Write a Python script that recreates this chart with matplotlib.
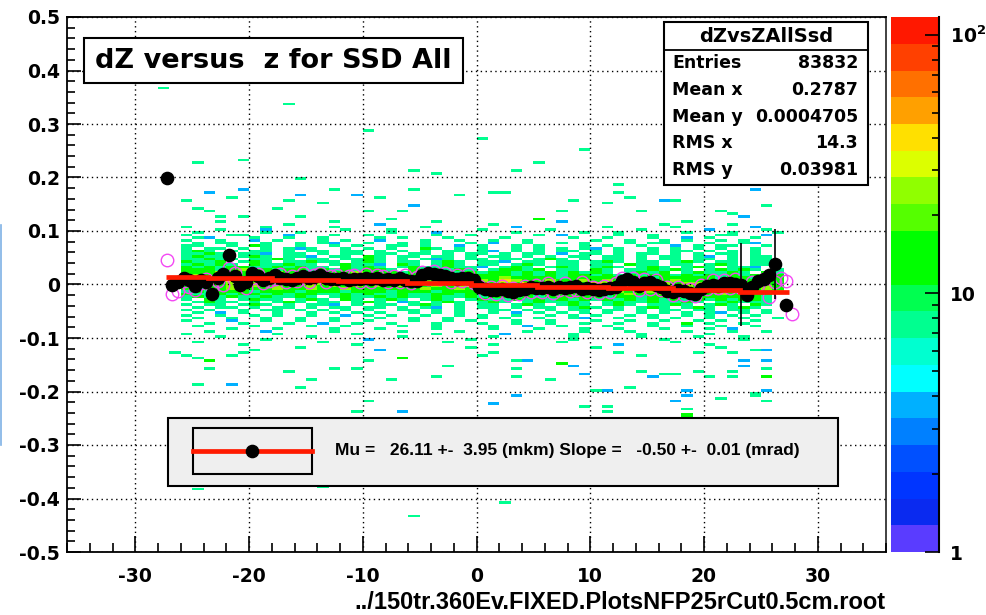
import numpy as np
import matplotlib
matplotlib.use('Agg')
import matplotlib.pyplot as plt
from matplotlib.colors import ListedColormap, LogNorm
from matplotlib.patches import Rectangle
from matplotlib.lines import Line2D
from matplotlib.ticker import MultipleLocator, FuncFormatter, NullFormatter

plt.rcParams['font.family'] = ['DejaVu Sans']
plt.rcParams['font.weight'] = 'bold'
plt.rcParams['axes.unicode_minus'] = False
plt.rcParams['mathtext.fontset'] = 'dejavusans'

# ---- data -----------------------------------------------------------------
# 2D histogram core: rows from y=0.12 down to y=-0.12 (0.005 per row),
# columns from x=-27 to x=27 (1 cm per column)
# . empty, b ~4, a ~8, g ~13, l ~26, y ~40 entries
level_count = {'b': 4, 'a': 8, 'g': 13, 'l': 26, 'y': 40, 'o': 60}
core_rows = [
    "....a.........a........a..........b..........a........",
    "..........a.......b.........a..............a.....a.....",
    ".a......a.....a.......a.......b.......a.....a......b...",
    "....a...b......a...a.......a.....a.......a.....b....a..",
    "..a.....a..a.......a...b......a.....a..a.....a...a...a.",
    ".a...aa...b...a..a.....a..a.....a.b....a..a.....aa..b.",
    "..ab...a..a..a....a.a...a....a.....a..a...a..b.a...a..",
    ".a..a..b.a...a.a..b...a..a..a..a.....a..a..a.a..a.a...",
    "..a.aa..a..a.ab..a..a.a...a.b..a..a.a...a.aa...a..ab..",
    ".aa..a.ga..a..a.a..aa.a..b.a..a.a...a.a..a..b.a.aa..a.",
    ".a.aa.a.a.aba..a.a.a..ga.a.a..a.a.a.ab.a..a.a.a.a..a..",
    ".aga.a.aa.a.aa.aa.a.a.a.aa.ab.a.a.aa.a.a..a.aa.a.a.a..",
    ".aaga.aab.aa.a.aa.aa.aa.a.aa.a.aa.b.aa.a.aa.a.a.aa.a..",
    ".agaa.aga.aab.aa.ga.aa.aa.a.aa.a.a.aa.aa.a.aa.ab.a.aa.",
    ".aagaa.aaga.aa.aaga.a.aba.aa.aa.aga.a.aa.a.aa.aa.a.aa.",
    ".gaag.aga.aagaa.aga.aa.aga.aab.aa.aa.aga.aa.aga.aa.aa.",
    ".agaga.gaagaa.agaab.ga.aga.aa.aga.aa.aa.gaa.aa.aga.aa.",
    ".gagaggaagagaa.gaga.agaagaab.aga.aga.aga.aga.aga.aab..",
    ".gggaglggaggagagagga.gagaga.aggag.aa.ga.aagaga.agaga.a",
    ".ggglgggglggaggglgggagaggagaggagagagaga.agag.agaaga.ga",
    ".glgglglgglgglgggglgggglggggggagagaggagagaggagagagagag",
    ".lglylglyglglgylglgglgglgglgglggggagggggggagggggaggagg",
    ".glylylglylgylglglylgylglgllgylgglgglglgglgglgggggggag",
    ".lylglyllgylylglyllglyllglylglgylgllgylgllglgllgglgggg",
    ".glgglglglgglglglglglgglglyllglylglgylglylglylglglgglg",
    ".gagglggglgglgglgggggglgglglglylglylglylgylglylglylglg",
    ".agagggagggagggagggagggagggglgglglglglglgllglglglgylgl",
    ".gaagaggagaggaagagaagaaggagaggggglggglgglgglgglglglgg.",
    ".agaagaagaaga.agaagagaagaagaggagagggggaggaggaggggggga.",
    ".a.ga.agaa.aga.ga.aga.aga.agaagagagagagagagagagagagga.",
    "..agaa.a.aga.aa.aga.ba.aga.aga.agaaga.agaagaaga.agaaa.",
    ".a.aa.aga.a.aab.a.aa.aga.a.aa.aga.aga.aga.aaga.aga.ga.",
    "..a.aa.a.aa.a.aa.aa.a.ab.a.aa.a.aa.aga.a.aga.aga.aga..",
    ".a.a..a.aa.a.a.a.a..aa.a.a..aa.a.a.aa.aa.a.aa.aa.aa.a.",
    "..a.b.a..a..a.a.a.a..a.a.a..a.b.a.a.a.a..a.a.a.ab.a.a.",
    ".a..a..a.a..a..b.a.a..a..a.a..a..a.a.a..a.a..a.a.a.a..",
    "..a..a..a..a..a...a..a..a..a.a..a..ab..a..a.a..a..a..a",
    ".a...b..a..a..a..a...a..a.a...a..a...a..a..a..a.a..a..",
    "...a..a...a..b..a..a...a...a..a..a..a..a..a..g.a..a...",
    "..a....a....a..a....a..a....a..b..a...a...a..a..a..a..",
    ".....a...a....a...a....a....a...a...a..a...a...a.b....",
    "...a....b.....a.....a....a.....a....a...a....a...a..a.",
    ".a.......a......a......a.....b.....a.....a.....a......",
    "....a.......a.......a.......a......a.....a....a...a...",
    "........a........b........a........a.......a......a..",
    "..a..........a..........a.........a.........a.........",
    "......a.........a...........a..........b.......a......",
    "...........a..............a..........a..........a.....",
]

# sparse cells outside the core (x, y, level)
out_x = [-27.3, -16.8, -24.7, -20.35, -15.8, -23.3, -21.75, -20.7, -24.7, -23.4,
         -22.3, -20.1, -16.7, -15.7, -17.4, -15.2, -13.5, -5.9, -3.4, -12.8,
         -10.6, -8.3, -5.8, -1.85, 1.8, -9.4, -6.3, -7.4, -5.9, 5.7,
         2.7, 8.2, 12.6, 12.6, 13.7, 11.7, 16.1, 17.7, 5.8, 7.7,
         14.1, 24.7, 21.7, 22.4, 23.3, 0.5, 9.0, -10.0, 18.5, 20.5,
         25.5, -26.0, 3.5,
         -26.7, -25.3, -24.4, -23.5, -24.9, -24.0, -21.4, -20.9, -21.4, -19.8,
         -16.8, -15.9, -14.3, -12.5, -10.4, -10.9, -9.4, -9.2, -8.9, -7.4,
         -6.8, -6.8, -3.9, -2.8, 0.6, 1.1, 1.8, 3.2, 3.2, 3.7,
         3.7, 4.7, 6.2, 7.1, 8.2, 9.6, 9.6, 10.3, 11.4, 11.7,
         11.7, 12.8, 13.7, 14.2, 14.9, 15.8, 16.7, 17.7, 17.7, 18.1,
         18.8, 19.3, 18.8, 18.6, 18.8, 19.5, 20.4, 21.1, 22.7, 23.2,
         22.7, 22.7, 23.4, 24.8, 25.7, 25.7, 25.2, 25.0, 25.7, 25.7,
         24.3, 24.8, -24.4, 2.6, -5.3, -14.0]
out_y = [0.367, 0.335, 0.227, 0.233, 0.197, 0.174, 0.162, 0.177, 0.143, 0.136,
         0.126, 0.125, 0.156, 0.169, 0.142, 0.126, 0.152, 0.211, 0.206, 0.180,
         0.169, 0.162, 0.180, 0.169, 0.174, 0.137, 0.136, 0.123, 0.150, 0.227,
         0.172, 0.156, 0.187, 0.174, 0.161, 0.153, 0.156, 0.156, 0.123, 0.139,
         0.135, 0.177, 0.139, 0.133, 0.128, 0.270, 0.250, 0.290, 0.230, 0.200,
         0.150, 0.160, 0.210,
         -0.127, -0.131, -0.136, -0.144, -0.188, -0.156, -0.134, -0.129, -0.188, -0.124,
         -0.162, -0.194, -0.179, -0.156, -0.159, -0.240, -0.144, -0.217, -0.122, -0.179,
         -0.139, -0.238, -0.171, -0.150, -0.131, -0.221, -0.130, -0.144, -0.208, -0.158,
         -0.173, -0.142, -0.179, -0.147, -0.152, -0.169, -0.229, -0.200, -0.200, -0.229,
         -0.238, -0.127, -0.194, -0.164, -0.133, -0.173, -0.166, -0.166, -0.216, -0.209,
         -0.197, -0.129, -0.234, -0.244, -0.250, -0.162, -0.171, -0.214, -0.129, -0.144,
         -0.161, -0.171, -0.153, -0.122, -0.125, -0.145, -0.159, -0.175, -0.200, -0.218,
         -0.209, -0.202, -0.381, -0.410, -0.434, -0.380]
out_c = ("aaaaababaa" "aaabaaaaaa" "baaaaaaaba" "aaaaaabaga" "abaabaaaaa" "aaa"
         "aaagaaaaba" "aaaaaaaaba" "gbaaabaaba" "abagbbaaba" "aaaaabaabb"
         "baagga" "aaabaab" "abbagbaaaa" "aaaa")

# profile (black points) and second profile (magenta open circles)
prof_x = np.arange(-27.25, 27.3, 0.5)
prof_y = [0.200, 0.000, 0.005, 0.013, 0.008, -0.002, 0.008, 0.005, -0.018, 0.012,
          0.020, 0.055, 0.015, 0.000, 0.005, 0.022, 0.015, 0.008, 0.012, 0.018,
          0.012, 0.010, 0.008, 0.013, 0.016, 0.012, 0.014, 0.018, 0.012, 0.010,
          0.011, 0.012, 0.009, 0.011, 0.010, 0.013, 0.011, 0.012, 0.009, 0.011,
          0.009, 0.012, 0.008, 0.007, 0.006, 0.017, 0.021, 0.019, 0.018, 0.015,
          0.012, 0.010, 0.013, 0.012, 0.008,
          -0.005, -0.008, -0.010, -0.011, -0.009, -0.012, -0.014, -0.010, -0.008, -0.005,
          -0.007, -0.006, -0.005, -0.008, -0.004, -0.006, -0.005, -0.003, -0.008, -0.006,
          -0.009, -0.010, -0.008, -0.007, -0.004, 0.006, 0.010, 0.005, -0.002, 0.003,
          0.004, -0.001, -0.005, -0.012, -0.014, -0.010, -0.012, -0.016, -0.018, -0.008,
          -0.002, 0.000, -0.002, 0.002, 0.003, 0.001, 0.000, -0.020, -0.005, 0.006,
          0.010, 0.018, 0.038, np.nan, -0.038]
err_x = [23.25, 26.25]
err_y = [0.000, 0.038]
err_dy = [0.078, 0.065]

mag_x = np.arange(-27.25, 27.8, 0.5)
mag_y = [0.045, -0.018, -0.012, 0.006, -0.004, -0.010, 0.002, 0.010, -0.004, 0.006,
         0.000, 0.030, 0.022, 0.004, -0.006, 0.012, 0.020, 0.002, 0.006, 0.010,
         0.020, 0.004, 0.016, 0.006, 0.022, 0.004, 0.018, 0.022, 0.004, 0.016,
         0.018, 0.004, 0.016, 0.018, 0.004, 0.020, 0.004, 0.018, 0.016, 0.004,
         0.016, 0.004, 0.018, 0.002, 0.014, 0.024, 0.010, 0.026, 0.010, 0.022,
         0.004, 0.018, 0.006, 0.020, 0.002,
         -0.002, -0.016, -0.004, -0.018, -0.002, -0.020, -0.006, -0.018, -0.002, -0.014,
         0.000, -0.014, 0.002, -0.016, -0.010, 0.002, -0.012, -0.010, 0.004, -0.014,
         -0.004, -0.016, -0.002, -0.014, 0.002, 0.012, 0.004, 0.012, -0.010, 0.010,
         -0.008, 0.008, -0.010, -0.004, -0.020, -0.004, -0.020, -0.008, -0.022, 0.000,
         -0.008, 0.008, -0.006, 0.008, -0.006, 0.010, -0.006, -0.012, 0.004, 0.000,
         0.010, -0.023, 0.005, 0.013, 0.007, -0.056]

# fitted straight line, drawn in steps as ROOT does
fit_edges = [-27.3, -23.6, -18.0, -12.2, -6.1, -0.5, 5.3, 11.6, 17.3, 23.2, 27.5]
fit_vals = [0.0145, 0.012, 0.009, 0.006, 0.0025, -0.0015, -0.004, -0.007, -0.010, -0.0135]

palette = ['#5a3cff', '#0a2af0', '#0035ff', '#0050ff', '#0080ff', '#00b0ff', '#00ffff',
           '#00ffd0', '#00ff90', '#00ff50', '#00ff00', '#00ff00', '#55ff00', '#90ff00',
           '#dcff00', '#ffe000', '#ffa000', '#ff7000', '#ff4000', '#ff1800']

stats_labels = ['Entries', 'Mean x', 'Mean y', 'RMS x', 'RMS y']
stats_values = ['83832', '0.2787', '0.0004705', '14.3', '0.03981']

# ---- build histogram --------------------------------------------------------
NX = 54
xs, ys, ws = [], [], []
for i, row in enumerate(core_rows):
    for j, ch in enumerate(row.ljust(NX, '.')[:NX]):
        if ch != '.':
            xs.append(-27 + j + 0.5)
            ys.append(0.12 - 0.005 * (i + 0.5))
            ws.append(level_count[ch])
for x, y, c in zip(out_x, out_y, out_c):
    xs.append(x)
    ys.append(y)
    ws.append(level_count[c])

xedges = np.arange(-36, 36.5, 1.0)
yedges = np.linspace(-0.5, 0.5, 201)
H, _, _ = np.histogram2d(xs, ys, bins=[xedges, yedges], weights=ws)

# ---- figure ------------------------------------------------------------------
W, HH = 986, 615
fig = plt.figure(figsize=(W / 100, HH / 100), dpi=100)


def fx(p):
    return p / W


def fy(p):
    return 1 - p / HH


ax = fig.add_axes([fx(67), fy(552), fx(886) - fx(67), fy(17) - fy(552)])
cmap = ListedColormap(palette)
norm = LogNorm(vmin=1, vmax=117)
mesh = ax.pcolormesh(xedges, yedges, np.ma.masked_equal(H.T, 0), cmap=cmap, norm=norm, zorder=1)

ax.plot(mag_x, mag_y, 'o', mfc='none', mec='#f348f3', ms=9, mew=1.0, zorder=3)
ax.plot(prof_x, prof_y, 'o', color='black', ms=8.8, zorder=4)
ax.errorbar(err_x, err_y, yerr=err_dy, fmt='none', ecolor='black', elinewidth=1.2, capsize=0, zorder=4)
ax.stairs(fit_vals, fit_edges, baseline=None, color='#ff1a00', lw=3.4, zorder=5)

ax.set_xlim(-36, 36)
ax.set_ylim(-0.5, 0.5)
ax.xaxis.set_major_locator(MultipleLocator(10))
ax.xaxis.set_minor_locator(MultipleLocator(2))
ax.yaxis.set_major_locator(MultipleLocator(0.1))
ax.yaxis.set_minor_locator(MultipleLocator(0.02))
ax.xaxis.set_major_formatter(FuncFormatter(lambda v, p: f'{round(v):d}'))
ax.yaxis.set_major_formatter(FuncFormatter(lambda v, p: f'{round(v, 1):g}' if abs(v) > 1e-9 else '0'))
ax.tick_params(axis='both', which='both', direction='in', top=False, right=False, width=1.2, labelsize=13.5)
ax.tick_params(axis='x', which='major', length=11.5, pad=11)
ax.tick_params(axis='x', which='minor', length=6.5)
ax.tick_params(axis='y', which='major', length=10, pad=5)
ax.tick_params(axis='y', which='minor', length=6)
ax.set_axisbelow(False)
ax.grid(True, which='major', color='black', linestyle=(0, (1, 2.5)), linewidth=1.0, zorder=2)
for s in ax.spines.values():
    s.set_linewidth(1.3)
ax.spines['right'].set_color('#333333')

# colour bar
cax = fig.add_axes([fx(891), fy(552), fx(939) - fx(891), fy(17) - fy(552)])
cb = fig.colorbar(mesh, cax=cax)
cb.outline.set_visible(False)
cb.set_ticks([1, 10, 100])
cb.set_ticklabels(['1', '10', r'$\mathbf{10^{2}}$'])
cax.yaxis.set_minor_formatter(NullFormatter())
cax.tick_params(which='both', direction='in', right=True, left=False, width=1.2, labelsize=13.5, pad=8)
cax.tick_params(which='major', length=10)
cax.tick_params(which='minor', length=5)
cax.plot([1, 1], [0, 1], transform=cax.transAxes, color='black', lw=1.5, clip_on=False)

# ---- boxes -------------------------------------------------------------------
def box(x0, y0, x1, y1, fc='white'):
    fig.add_artist(Rectangle((fx(x0), fy(y1)), fx(x1) - fx(x0), fy(y0) - fy(y1),
                             transform=fig.transFigure, facecolor=fc,
                             edgecolor='black', lw=1.5, zorder=5))


# title
box(84, 38, 463, 83)
fig.text(fx(273), fy(61), 'dZ versus  z for SSD All', ha='center', va='center',
         fontsize=19.5, fontweight='bold', zorder=6)

# statistics box
box(664, 22, 868, 185)
fig.add_artist(Line2D([fx(664), fx(868)], [fy(50), fy(50)], transform=fig.transFigure,
                      color='black', lw=1.3, zorder=6))
fig.text(fx(766), fy(36), 'dZvsZAllSsd', ha='center', va='center', fontsize=14, zorder=6)
for k, (lab, val) in enumerate(zip(stats_labels, stats_values)):
    yy = fy(63 + 26.8 * k)
    fig.text(fx(672), yy, lab, ha='left', va='center', fontsize=12.5, zorder=6)
    fig.text(fx(858), yy, val, ha='right', va='center', fontsize=12.5, zorder=6)

# legend
box(168, 418, 838, 486, fc='#efefef')
box(193, 428, 312, 474, fc='#efefef')
fig.add_artist(Line2D([fx(193), fx(312)], [fy(451), fy(451)], transform=fig.transFigure,
                      color='#ff1a00', lw=3.4, zorder=7))
fig.add_artist(Line2D([fx(252)], [fy(451)], transform=fig.transFigure, marker='o',
                      color='black', ms=8.8, zorder=8))
fig.text(fx(335), fy(451), 'Mu =   26.11 +-  3.95 (mkm) Slope =   -0.50 +-  0.01 (mrad)',
         ha='left', va='center', fontsize=12.5, fontweight='bold',
         family=['Liberation Sans', 'DejaVu Sans'], zorder=8)

# x axis title
fig.text(fx(886), fy(609), '../150tr.360Ev.FIXED.PlotsNFP25rCut0.5cm.root', ha='right',
         va='baseline', fontsize=17, fontweight='bold', family=['Liberation Sans', 'DejaVu Sans'])

# stray line at the left edge of the picture
fig.add_artist(Line2D([fx(0.8), fx(0.8)], [fy(225), fy(445)], transform=fig.transFigure,
                      color='#7fb2e5', lw=1.2))

fig.savefig('out.png', dpi=100)
